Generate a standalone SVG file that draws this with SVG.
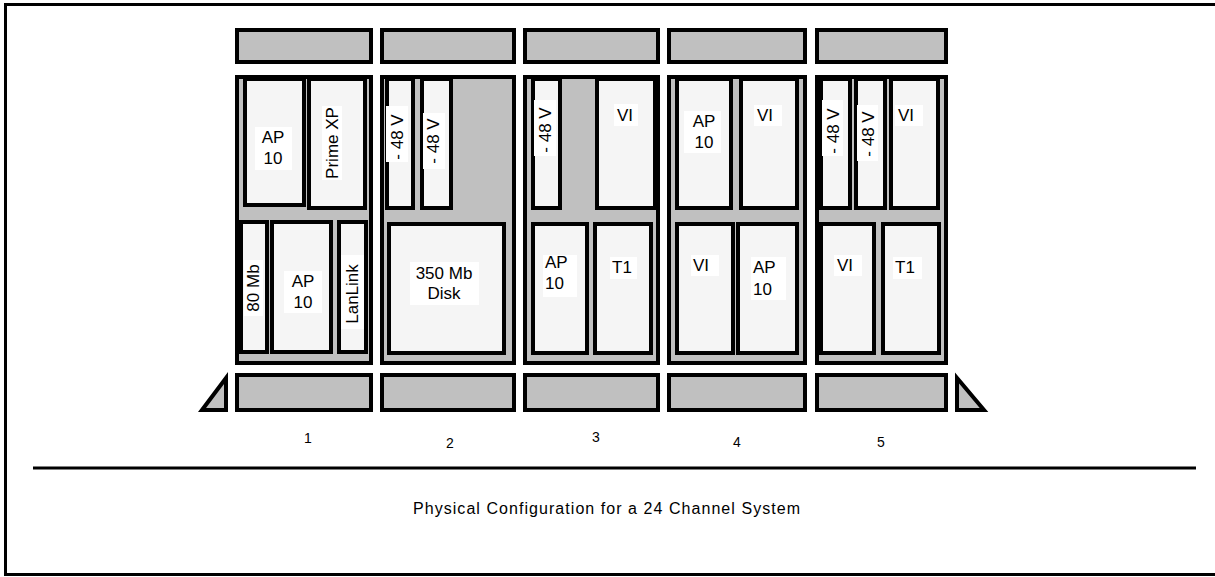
<svg xmlns="http://www.w3.org/2000/svg" width="1215" height="577" viewBox="0 0 1215 577">
<style>
.bar{fill:#c0c0c0;stroke:#000;stroke-width:4}
.cab{fill:#c0c0c0;stroke:#000;stroke-width:4}
.mod{fill:#f5f5f5;stroke:#000;stroke-width:4}
.bg{fill:#fff;stroke:none}
text{font-family:"Liberation Sans",Arial,sans-serif;font-size:17px;fill:#000}
.num{font-size:14px}
.cap{font-size:16px}
</style>
<rect x="0" y="0" width="1215" height="577" fill="#fff"/>
<rect x="5.5" y="4.5" width="1220" height="570" fill="none" stroke="#000" stroke-width="3"/>
<line x1="33" y1="468" x2="1196" y2="468" stroke="#000" stroke-width="3"/>

<g id="top-bars">
<rect class="bar" x="237" y="30" width="134" height="32"/>
<rect class="bar" x="382" y="30" width="132" height="32"/>
<rect class="bar" x="525" y="30" width="133" height="32"/>
<rect class="bar" x="669" y="30" width="136" height="32"/>
<rect class="bar" x="817" y="30" width="129" height="32"/>
</g>
<g id="bottom-bars">
<rect class="bar" x="237" y="375" width="134" height="35"/>
<rect class="bar" x="382" y="375" width="132" height="35"/>
<rect class="bar" x="525" y="375" width="133" height="35"/>
<rect class="bar" x="669" y="375" width="136" height="35"/>
<rect class="bar" x="817" y="375" width="129" height="35"/>
</g>
<g id="feet">
<polygon class="bar" points="202,410 226,378 226,410"/>
<polygon class="bar" points="957,378 957,410 984,410"/>
</g>

<g id="cabinet-1">
<rect class="cab" x="237" y="77" width="134" height="286"/>
<rect class="mod" x="245" y="79" width="59" height="126"/>
<rect class="mod" x="309" y="79" width="56" height="129"/>
<rect class="mod" x="241" y="222" width="26" height="130"/>
<rect class="mod" x="272" y="222" width="59" height="130"/>
<rect class="mod" x="339" y="222" width="27" height="130"/>
<rect class="bg" x="255" y="127" width="37" height="43"/>
<text x="273" y="143" text-anchor="middle">AP</text>
<text x="273" y="164" text-anchor="middle">10</text>
<rect class="bg" x="322" y="106" width="20" height="74"/>
<text transform="translate(338,143) rotate(-90)" text-anchor="middle">Prime XP</text>
<rect class="bg" x="244" y="260" width="19" height="56"/>
<text transform="translate(259,288) rotate(-90)" text-anchor="middle">80 Mb</text>
<rect class="bg" x="284" y="271" width="38" height="42"/>
<text x="303" y="287" text-anchor="middle">AP</text>
<text x="303" y="308" text-anchor="middle">10</text>
<rect class="bg" x="341" y="255" width="23" height="74"/>
<text transform="translate(358,294) rotate(-90)" text-anchor="middle">LanLink</text>
</g>

<g id="cabinet-2">
<rect class="cab" x="382" y="77" width="132" height="286"/>
<rect class="mod" x="387" y="79" width="26" height="129"/>
<rect class="mod" x="422" y="79" width="29" height="129"/>
<rect class="mod" x="389" y="224" width="115" height="129"/>
<rect class="bg" x="386" y="106" width="22" height="56"/>
<text transform="translate(403,137) rotate(-90)" text-anchor="middle">- 48 V</text>
<rect class="bg" x="423" y="113" width="22" height="56"/>
<text transform="translate(439,141) rotate(-90)" text-anchor="middle">- 48 V</text>
<rect class="bg" x="410" y="262" width="69" height="43"/>
<text x="444" y="279" text-anchor="middle">350 Mb</text>
<text x="444" y="299" text-anchor="middle">Disk</text>
</g>

<g id="cabinet-3">
<rect class="cab" x="525" y="77" width="133" height="286"/>
<rect class="mod" x="533" y="79" width="27" height="129"/>
<rect class="mod" x="597" y="79" width="58" height="129"/>
<rect class="mod" x="533" y="224" width="54" height="129"/>
<rect class="mod" x="595" y="224" width="56" height="129"/>
<rect class="bg" x="534" y="100" width="22" height="56"/>
<text transform="translate(551,130) rotate(-90)" text-anchor="middle">- 48 V</text>
<rect class="bg" x="614" y="104" width="24" height="22"/>
<text x="617" y="121">VI</text>
<rect class="bg" x="543" y="255" width="34" height="42"/>
<text x="545" y="268">AP</text>
<text x="545" y="289">10</text>
<rect class="bg" x="610" y="257" width="27" height="22"/>
<text x="612" y="273">T1</text>
</g>

<g id="cabinet-4">
<rect class="cab" x="669" y="77" width="136" height="286"/>
<rect class="mod" x="677" y="79" width="54" height="129"/>
<rect class="mod" x="741" y="79" width="56" height="129"/>
<rect class="mod" x="677" y="224" width="56" height="129"/>
<rect class="mod" x="738" y="224" width="59" height="129"/>
<rect class="bg" x="684" y="111" width="37" height="42"/>
<text x="704" y="127" text-anchor="middle">AP</text>
<text x="704" y="148" text-anchor="middle">10</text>
<rect class="bg" x="754" y="105" width="28" height="21"/>
<text x="757" y="121">VI</text>
<rect class="bg" x="691" y="255" width="28" height="21"/>
<text x="693" y="271">VI</text>
<rect class="bg" x="751" y="257" width="35" height="43"/>
<text x="753" y="273">AP</text>
<text x="753" y="295">10</text>
</g>

<g id="cabinet-5">
<rect class="cab" x="817" y="77" width="129" height="286"/>
<rect class="mod" x="821" y="79" width="29" height="129"/>
<rect class="mod" x="856" y="79" width="29" height="129"/>
<rect class="mod" x="891" y="79" width="47" height="129"/>
<rect class="mod" x="821" y="224" width="53" height="129"/>
<rect class="mod" x="883" y="224" width="56" height="129"/>
<rect class="bg" x="822" y="100" width="21" height="56"/>
<text transform="translate(839,131) rotate(-90)" text-anchor="middle">- 48 V</text>
<rect class="bg" x="857" y="105" width="21" height="56"/>
<text transform="translate(874,134) rotate(-90)" text-anchor="middle">- 48 V</text>
<rect class="bg" x="895" y="105" width="28" height="21"/>
<text x="898" y="121">VI</text>
<rect class="bg" x="834" y="255" width="28" height="21"/>
<text x="837" y="271">VI</text>
<rect class="bg" x="893" y="257" width="29" height="22"/>
<text x="895" y="273">T1</text>
</g>

<g id="labels">
<text class="num" x="308" y="443" text-anchor="middle">1</text>
<text class="num" x="450" y="448" text-anchor="middle">2</text>
<text class="num" x="596" y="442" text-anchor="middle">3</text>
<text class="num" x="737" y="447" text-anchor="middle">4</text>
<text class="num" x="881" y="447" text-anchor="middle">5</text>
<text class="cap" x="413" y="514" textLength="387" lengthAdjust="spacing">Physical Configuration for a 24 Channel System</text>
</g>
</svg>
